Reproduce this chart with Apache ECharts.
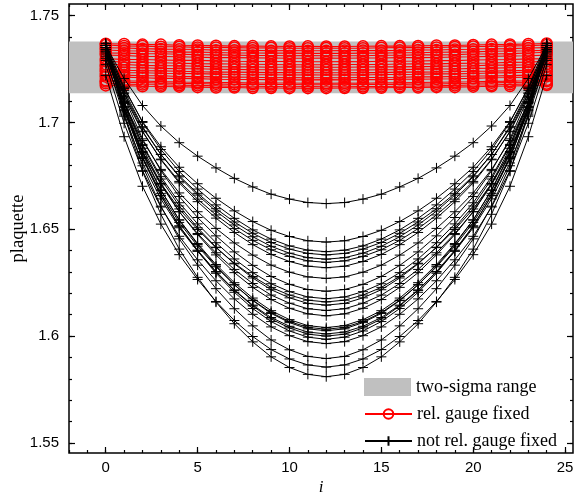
<!DOCTYPE html>
<html><head><meta charset="utf-8">
<script src="https://cdn.jsdelivr.net/npm/echarts@6/dist/echarts.min.js"></script>
<style>html,body{margin:0;padding:0;background:#fff}#c{width:575px;height:498px}</style>
</head><body><div id="c"></div>
<script>
const iValues = [0,1,2,3,4,5,6,7,8,9,10,11,12,13,14,15,16,17,18,19,20,21,22,23,24];
const bandRange = [1.7136, 1.7378];
const xTicks = [0,5,10,15,20,25];
const xMinorTicks = [-2,-1,0,1,2,3,4,5,6,7,8,9,10,11,12,13,14,15,16,17,18,19,20,21,22,23,24,25];
const yTicks = [1.55,1.6,1.65,1.7,1.75];
const yMinorTicks = [1.55,1.56,1.57,1.58,1.59,1.6,1.61,1.62,1.63,1.64,1.65,1.66,1.67,1.68,1.69,1.7,1.71,1.72,1.73,1.74,1.75];

const redValues = [
[1.7368,1.7367,1.7364,1.7364,1.7361,1.7360,1.7359,1.7357,1.7357,1.7356,1.7355,1.7356,1.7355,1.7355,1.7356,1.7357,1.7357,1.7358,1.7360,1.7360,1.7362,1.7364,1.7365,1.7367,1.7369],
[1.7362,1.7358,1.7357,1.7354,1.7354,1.7351,1.7351,1.7350,1.7348,1.7349,1.7347,1.7347,1.7348,1.7347,1.7347,1.7349,1.7350,1.7350,1.7351,1.7353,1.7355,1.7355,1.7358,1.7359,1.7362],
[1.7349,1.7348,1.7345,1.7343,1.7342,1.7341,1.7338,1.7338,1.7337,1.7335,1.7336,1.7335,1.7335,1.7336,1.7336,1.7336,1.7337,1.7339,1.7339,1.7341,1.7342,1.7344,1.7345,1.7348,1.7350],
[1.7339,1.7335,1.7334,1.7331,1.7329,1.7329,1.7327,1.7325,1.7325,1.7324,1.7324,1.7323,1.7323,1.7323,1.7324,1.7324,1.7326,1.7326,1.7328,1.7329,1.7330,1.7333,1.7334,1.7335,1.7337],
[1.7325,1.7324,1.7322,1.7321,1.7319,1.7317,1.7316,1.7315,1.7313,1.7313,1.7312,1.7313,1.7312,1.7312,1.7312,1.7314,1.7314,1.7316,1.7316,1.7317,1.7320,1.7320,1.7322,1.7325,1.7328],
[1.7315,1.7313,1.7309,1.7308,1.7307,1.7305,1.7303,1.7303,1.7302,1.7301,1.7300,1.7300,1.7301,1.7300,1.7301,1.7301,1.7303,1.7303,1.7304,1.7306,1.7307,1.7309,1.7311,1.7312,1.7315],
[1.7298,1.7295,1.7294,1.7292,1.7290,1.7290,1.7288,1.7286,1.7285,1.7285,1.7285,1.7284,1.7284,1.7285,1.7284,1.7286,1.7286,1.7287,1.7289,1.7289,1.7292,1.7293,1.7294,1.7297,1.7298],
[1.7286,1.7282,1.7280,1.7279,1.7277,1.7275,1.7274,1.7273,1.7272,1.7271,1.7270,1.7270,1.7270,1.7271,1.7271,1.7271,1.7273,1.7274,1.7274,1.7276,1.7277,1.7278,1.7281,1.7282,1.7286],
[1.7271,1.7271,1.7267,1.7265,1.7265,1.7263,1.7261,1.7260,1.7260,1.7258,1.7259,1.7259,1.7258,1.7258,1.7259,1.7260,1.7260,1.7261,1.7262,1.7264,1.7265,1.7268,1.7268,1.7270,1.7273],
[1.7260,1.7257,1.7256,1.7253,1.7251,1.7251,1.7249,1.7248,1.7246,1.7246,1.7245,1.7245,1.7246,1.7245,1.7245,1.7246,1.7247,1.7249,1.7250,1.7250,1.7253,1.7254,1.7256,1.7258,1.7259],
[1.7246,1.7244,1.7242,1.7241,1.7239,1.7237,1.7235,1.7235,1.7234,1.7233,1.7233,1.7232,1.7232,1.7232,1.7233,1.7233,1.7235,1.7235,1.7236,1.7238,1.7239,1.7240,1.7242,1.7244,1.7248],
[1.7238,1.7233,1.7232,1.7230,1.7229,1.7228,1.7226,1.7224,1.7223,1.7223,1.7222,1.7223,1.7222,1.7223,1.7222,1.7224,1.7224,1.7225,1.7227,1.7227,1.7229,1.7231,1.7233,1.7235,1.7237],
[1.7222,1.7221,1.7218,1.7218,1.7215,1.7214,1.7213,1.7212,1.7211,1.7209,1.7210,1.7209,1.7209,1.7209,1.7210,1.7210,1.7211,1.7213,1.7213,1.7215,1.7217,1.7217,1.7219,1.7221,1.7223],
[1.7214,1.7212,1.7209,1.7206,1.7206,1.7205,1.7202,1.7201,1.7201,1.7200,1.7199,1.7199,1.7200,1.7199,1.7200,1.7200,1.7202,1.7202,1.7203,1.7204,1.7206,1.7209,1.7210,1.7212,1.7215],
[1.7197,1.7194,1.7194,1.7191,1.7189,1.7188,1.7187,1.7186,1.7184,1.7184,1.7184,1.7183,1.7183,1.7184,1.7183,1.7185,1.7185,1.7187,1.7188,1.7189,1.7190,1.7192,1.7193,1.7195,1.7198],
[1.7183,1.7179,1.7177,1.7176,1.7174,1.7173,1.7171,1.7169,1.7169,1.7168,1.7167,1.7168,1.7167,1.7167,1.7168,1.7168,1.7169,1.7170,1.7171,1.7173,1.7175,1.7175,1.7178,1.7180,1.7181],
[1.7173,1.7172,1.7169,1.7168,1.7167,1.7165,1.7163,1.7163,1.7161,1.7161,1.7160,1.7160,1.7160,1.7161,1.7161,1.7162,1.7163,1.7163,1.7165,1.7165,1.7167,1.7169,1.7170,1.7172,1.7175],
[1.7191,1.7188,1.7186,1.7184,1.7182,1.7182,1.7180,1.7178,1.7178,1.7177,1.7177,1.7176,1.7176,1.7176,1.7177,1.7177,1.7178,1.7180,1.7180,1.7182,1.7183,1.7185,1.7187,1.7188,1.7192]
];

const blackValues = [
[1.736,1.7205,1.7079,1.6983,1.6905,1.6842,1.6787,1.6738,1.6698,1.6664,1.6641,1.6625,1.662,1.6625,1.6641,1.6664,1.6698,1.6738,1.6787,1.6842,1.6905,1.6983,1.7079,1.7205,1.736],
[1.735,1.7159,1.7004,1.6886,1.679,1.6713,1.6645,1.6586,1.6536,1.6495,1.6466,1.6446,1.644,1.6446,1.6466,1.6495,1.6536,1.6586,1.6645,1.6713,1.679,1.6886,1.7004,1.7159,1.735],
[1.737,1.7165,1.700,1.6873,1.677,1.6688,1.6614,1.6551,1.6497,1.6454,1.6422,1.6402,1.6395,1.6402,1.6422,1.6454,1.6497,1.6551,1.6614,1.6688,1.677,1.6873,1.700,1.7165,1.737],
[1.734,1.7138,1.6975,1.685,1.675,1.6668,1.6596,1.6534,1.6481,1.6438,1.6407,1.6387,1.638,1.6387,1.6407,1.6438,1.6481,1.6534,1.6596,1.6668,1.675,1.685,1.6975,1.7138,1.734],
[1.736,1.715,1.698,1.685,1.6745,1.666,1.6585,1.652,1.6465,1.642,1.6388,1.6367,1.636,1.6367,1.6388,1.642,1.6465,1.652,1.6585,1.666,1.6745,1.685,1.698,1.715,1.736],
[1.733,1.7123,1.6956,1.6828,1.6724,1.6641,1.6567,1.6503,1.6448,1.6404,1.6373,1.6352,1.6345,1.6352,1.6373,1.6404,1.6448,1.6503,1.6567,1.6641,1.6724,1.6828,1.6956,1.7123,1.733],
[1.735,1.7134,1.6959,1.6825,1.6717,1.6629,1.6552,1.6485,1.6428,1.6382,1.6349,1.6327,1.632,1.6327,1.6349,1.6382,1.6428,1.6485,1.6552,1.6629,1.6717,1.6825,1.6959,1.7134,1.735],
[1.731,1.7092,1.6915,1.678,1.667,1.6582,1.6504,1.6436,1.6379,1.6332,1.6299,1.6277,1.627,1.6277,1.6299,1.6332,1.6379,1.6436,1.6504,1.6582,1.667,1.678,1.6915,1.7092,1.731],
[1.736,1.7119,1.6923,1.6774,1.6653,1.6555,1.6469,1.6394,1.6331,1.6279,1.6242,1.6218,1.621,1.6218,1.6242,1.6279,1.6331,1.6394,1.6469,1.6555,1.6653,1.6774,1.6923,1.7119,1.736],
[1.734,1.7095,1.6897,1.6746,1.6624,1.6525,1.6437,1.6361,1.6297,1.6245,1.6208,1.6183,1.6175,1.6183,1.6208,1.6245,1.6297,1.6361,1.6437,1.6525,1.6624,1.6746,1.6897,1.7095,1.734],
[1.729,1.7053,1.6861,1.6714,1.6595,1.6499,1.6414,1.6341,1.6279,1.6228,1.6192,1.6168,1.616,1.6168,1.6192,1.6228,1.6279,1.6341,1.6414,1.6499,1.6595,1.6714,1.6861,1.7053,1.729],
[1.735,1.7097,1.6892,1.6735,1.6609,1.6507,1.6416,1.6338,1.6272,1.6217,1.6179,1.6153,1.6145,1.6153,1.6179,1.6217,1.6272,1.6338,1.6416,1.6507,1.6609,1.6735,1.6892,1.7097,1.735],
[1.732,1.7068,1.6864,1.6708,1.6582,1.648,1.639,1.6312,1.6246,1.6192,1.6154,1.6128,1.612,1.6128,1.6154,1.6192,1.6246,1.6312,1.639,1.648,1.6582,1.6708,1.6864,1.7068,1.732],
[1.736,1.7094,1.6879,1.6715,1.6582,1.6475,1.638,1.6297,1.6228,1.6171,1.613,1.6104,1.6095,1.6104,1.613,1.6171,1.6228,1.6297,1.638,1.6475,1.6582,1.6715,1.6879,1.7094,1.736],
[1.735,1.7075,1.6852,1.6682,1.6544,1.6433,1.6335,1.625,1.6178,1.6119,1.6077,1.6049,1.604,1.6049,1.6077,1.6119,1.6178,1.625,1.6335,1.6433,1.6544,1.6682,1.6852,1.7075,1.735],
[1.733,1.7057,1.6837,1.6668,1.6532,1.6421,1.6324,1.624,1.6168,1.611,1.6068,1.6041,1.6032,1.6041,1.6068,1.611,1.6168,1.624,1.6324,1.6421,1.6532,1.6668,1.6837,1.7057,1.733],
[1.737,1.7088,1.6859,1.6684,1.6543,1.6429,1.6328,1.624,1.6166,1.6106,1.6063,1.6034,1.6025,1.6034,1.6063,1.6106,1.6166,1.624,1.6328,1.6429,1.6543,1.6684,1.6859,1.7088,1.737],
[1.730,1.7029,1.681,1.6642,1.6507,1.6397,1.630,1.6216,1.6145,1.6087,1.6046,1.6019,1.601,1.6019,1.6046,1.6087,1.6145,1.6216,1.630,1.6397,1.6507,1.6642,1.681,1.7029,1.730],
[1.734,1.7059,1.6831,1.6657,1.6516,1.6402,1.6302,1.6214,1.6141,1.608,1.6038,1.6009,1.600,1.6009,1.6038,1.608,1.6141,1.6214,1.6302,1.6402,1.6516,1.6657,1.6831,1.7059,1.734],
[1.736,1.7071,1.6838,1.6659,1.6514,1.6398,1.6294,1.6205,1.6129,1.6068,1.6024,1.5995,1.5985,1.5995,1.6024,1.6068,1.6129,1.6205,1.6294,1.6398,1.6514,1.6659,1.6838,1.7071,1.736],
[1.727,1.6996,1.6774,1.6604,1.6467,1.6357,1.6259,1.6174,1.6102,1.6043,1.6002,1.5974,1.5965,1.5974,1.6002,1.6043,1.6102,1.6174,1.6259,1.6357,1.6467,1.6604,1.6774,1.6996,1.727],
[1.735,1.7044,1.6797,1.6608,1.6455,1.6332,1.6222,1.6128,1.6048,1.5982,1.5936,1.5905,1.5895,1.5905,1.5936,1.5982,1.6048,1.6128,1.6222,1.6332,1.6455,1.6608,1.6797,1.7044,1.735],
[1.722,1.6933,1.6701,1.6524,1.6381,1.6265,1.6162,1.6073,1.5998,1.5937,1.5893,1.5865,1.5855,1.5865,1.5893,1.5937,1.5998,1.6073,1.6162,1.6265,1.6381,1.6524,1.6701,1.6933,1.722],
[1.736,1.7035,1.6771,1.657,1.6407,1.6275,1.6159,1.6058,1.5973,1.5903,1.5853,1.5821,1.581,1.5821,1.5853,1.5903,1.5973,1.6058,1.6159,1.6275,1.6407,1.657,1.6771,1.7035,1.736]
];

const X_MIN = -2, X_MAX = 25.43, Y_MIN = 1.5453, Y_MAX = 1.7554;
const tickFont = {fontFamily:'Liberation Sans', fontSize:15, color:'#000'};
const serif = 'Liberation Serif';
const PLUS = 'path://M0,5L10,5M5,0L5,10';

function xAxisDef(pos, ticks, len, labels) {
  return {type:'value', min:X_MIN, max:X_MAX, position:pos, gridIndex:0,
    axisLine:{show:false, onZero:false}, splitLine:{show:false},
    axisTick:{show:true, inside:true, length:len, customValues:ticks, lineStyle:{color:'#000', width:1.2}},
    axisLabel:labels ? Object.assign({show:true, customValues:ticks, margin:7, formatter:v=>String(v)}, tickFont) : {show:false}};
}
function yAxisDef(pos, ticks, len, labels) {
  return {type:'value', min:Y_MIN, max:Y_MAX, position:pos, gridIndex:0,
    axisLine:{show:false, onZero:false}, splitLine:{show:false},
    axisTick:{show:true, inside:true, length:len, customValues:ticks, lineStyle:{color:'#000', width:1.2}},
    axisLabel:labels ? Object.assign({show:true, customValues:ticks, margin:10, formatter:v=>String(v)}, tickFont) : {show:false}};
}

const xAxes = [xAxisDef('bottom', xTicks, 6, true), xAxisDef('bottom', xMinorTicks, 3, false), xAxisDef('top', xTicks, 6, false), xAxisDef('top', xMinorTicks, 3, false)];
xAxes[0].name = 'i';
xAxes[0].nameLocation = 'middle';
xAxes[0].nameGap = 26;
xAxes[0].nameMoveOverlap = false;
xAxes[0].nameTextStyle = {fontFamily:serif, fontStyle:'italic', fontSize:17, color:'#000'};
const yAxes = [yAxisDef('left', yTicks, 6, true), yAxisDef('left', yMinorTicks, 3, false), yAxisDef('right', yTicks, 6, false), yAxisDef('right', yMinorTicks, 3, false)];
yAxes[0].name = 'plaquette';
yAxes[0].nameLocation = 'middle';
yAxes[0].nameGap = 41;
yAxes[0].nameMoveOverlap = false;
yAxes[0].nameTextStyle = {fontFamily:serif, fontSize:18.5, color:'#000'};

const series = [];
series.push({type:'line', name:'two-sigma range', data:[], silent:true, z:1,
  itemStyle:{color:'#c0c0c0'},
  markArea:{silent:true, itemStyle:{color:'#c0c0c0'}, data:[[{yAxis:bandRange[0]},{yAxis:bandRange[1]}]]}});
redValues.forEach(arr => series.push({type:'line', name:'rel. gauge fixed', silent:true, z:3,
  data:arr.map((v,k)=>[iValues[k], v]), symbol:'circle', symbolSize:11,
  itemStyle:{color:'rgba(0,0,0,0)', borderColor:'#ff0000', borderWidth:1.5},
  lineStyle:{color:'#ff0000', width:1.1}}));
blackValues.forEach(arr => series.push({type:'line', name:'not rel. gauge fixed', silent:true, z:4,
  data:arr.map((v,k)=>[iValues[k], v]), symbol:PLUS, symbolSize:10,
  itemStyle:{color:'rgba(0,0,0,0)', borderColor:'#000', borderWidth:1},
  lineStyle:{color:'#000', width:1}}));

const chart = echarts.init(document.getElementById('c'), null, {renderer:'canvas'});
chart.setOption({
  animation:false,
  backgroundColor:'#fff',
  grid:{left:69, right:2, top:4, bottom:45, containLabel:false, outerBoundsMode:'none',
        show:true, borderColor:'#000', borderWidth:1.5, backgroundColor:'transparent'},
  xAxis:xAxes,
  yAxis:yAxes,
  legend:[
    {left:364, top:378, padding:0, orient:'vertical', selectedMode:false, itemWidth:47, itemHeight:18, itemGap:3,
     textStyle:{fontFamily:serif, fontSize:18, color:'#000'},
     data:[{name:'two-sigma range', icon:'rect', itemStyle:{color:'#c0c0c0'}}]},
    {left:364, top:405, padding:0, orient:'vertical', selectedMode:false, itemWidth:47, itemHeight:12, itemGap:9,
     textStyle:{fontFamily:serif, fontSize:18, lineHeight:12, color:'#000'},
     data:['rel. gauge fixed','not rel. gauge fixed']}
  ],
  series:series
});
</script>
</body></html>
